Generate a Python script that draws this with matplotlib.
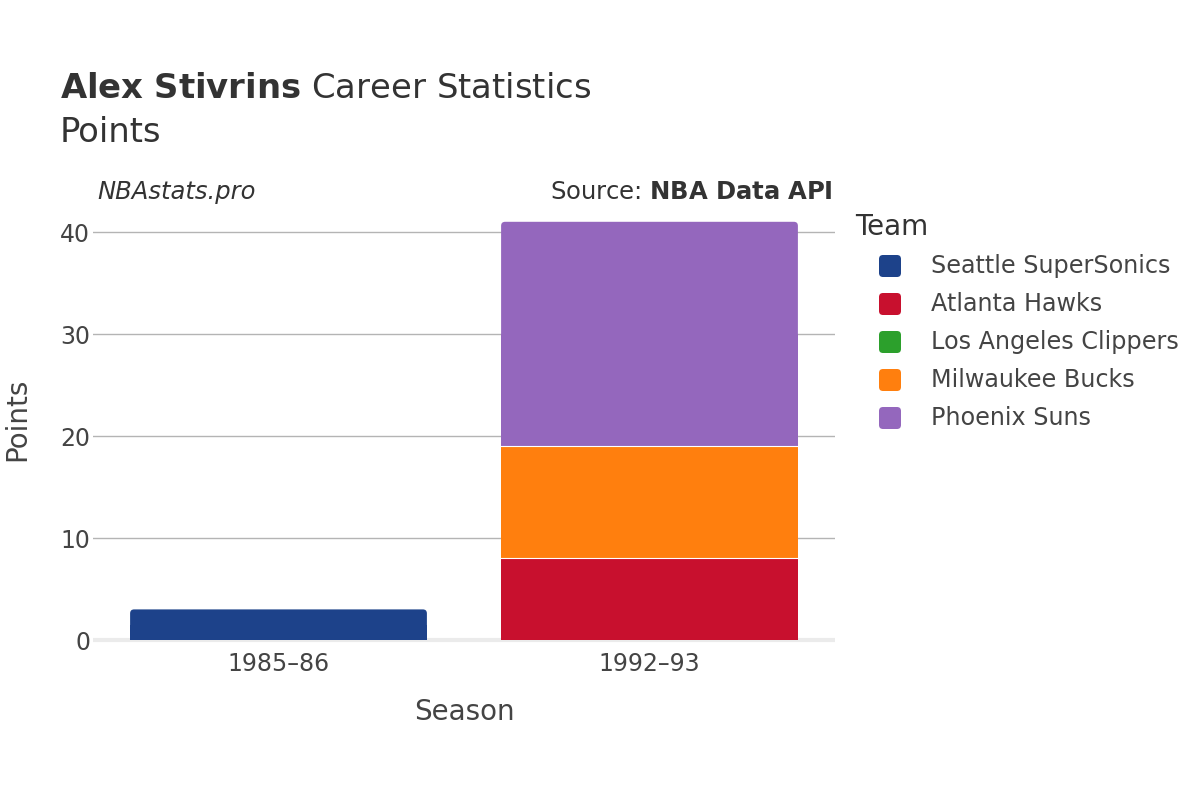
import numpy as np
import matplotlib
matplotlib.use("Agg")
import matplotlib.pyplot as plt
from matplotlib.patches import FancyBboxPatch, Rectangle

plt.rcParams["font.family"] = ["DejaVu Sans"]

# data
seasons = ["1985\u201386", "1992\u201393"]
teams = ["Seattle SuperSonics", "Atlanta Hawks", "Los Angeles Clippers",
         "Milwaukee Bucks", "Phoenix Suns"]
colors = ["#1d428a", "#c8102e", "#2ca02c", "#ff7f0e", "#9467bd"]
points = {
    "Seattle SuperSonics": [3, 0],
    "Atlanta Hawks": [0, 8],
    "Los Angeles Clippers": [0, 0],
    "Milwaukee Bucks": [0, 11],
    "Phoenix Suns": [0, 22],
}

fig = plt.figure(figsize=(12, 8), dpi=100)
ax = fig.add_axes([93 / 1200, (800 - 645.1) / 800, (835 - 93) / 1200, 433.5 / 800])
ax.set_xlim(-0.5, 1.5)
ax.set_ylim(-0.5, 42)

width = 0.8
x = np.arange(len(seasons))
bottom = np.zeros(len(seasons))
# px per data unit, for rounded corners
px_x = 372.0
px_y = 10.2
r = 4.0 / px_x
aspect = px_x / px_y

tops = np.zeros(len(seasons), dtype=int) - 1
for k, t in enumerate(teams):
    for i in range(len(seasons)):
        if points[t][i] > 0:
            tops[i] = k

for k, t in enumerate(teams):
    vals = np.array(points[t], dtype=float)
    for i in range(len(seasons)):
        v = vals[i]
        if v <= 0:
            continue
        x0 = x[i] - width / 2
        if tops[i] == k:
            # rounded top segment
            p = FancyBboxPatch((x0, bottom[i]), width, v,
                               boxstyle="round,pad=0,rounding_size=%f" % r,
                               mutation_aspect=aspect, facecolor=colors[k],
                               edgecolor="none", zorder=3)
            ax.add_patch(p)
            ax.add_patch(Rectangle((x0, bottom[i]), width, v / 2,
                                   facecolor=colors[k], edgecolor="none", zorder=3))
        else:
            ax.add_patch(Rectangle((x0, bottom[i]), width, v,
                                   facecolor=colors[k], edgecolor="none", zorder=3))
        if bottom[i] > 0:
            ax.plot([x0, x0 + width], [bottom[i], bottom[i]], color="white",
                    lw=0.8, zorder=4)
    bottom += vals

# grid and axes styling
ax.set_yticks([0, 10, 20, 30, 40])
for yv in [10, 20, 30, 40]:
    ax.axhline(yv, color="#b4b4b4", lw=1, zorder=1)
ax.axhline(0, color="#ebebeb", lw=3, zorder=2)
for s in ax.spines.values():
    s.set_visible(False)
ax.tick_params(axis="both", length=0, labelsize=17, colors="#444444", pad=5)
ax.tick_params(axis="y", pad=2)
ax.set_xticks(x)
ax.set_xticklabels(seasons)
ax.set_xlabel("Season", fontsize=20, color="#444444")
ax.xaxis.set_label_coords(0.5, -(698 - 645.1) / 433.5)
ax.set_ylabel("Points", fontsize=20, color="#444444")
ax.yaxis.set_label_coords(-(93 - 31) / 742, (645.1 - 419) / 433.5)

# titles
fig.text(60 / 1200, 1 - 88 / 800, r"$\bf{Alex\ Stivrins}$ Career Statistics",
         fontsize=24.4, color="#333333", va="center", ha="left")
fig.text(60 / 1200, 1 - 133 / 800, "Points", fontsize=24.4, color="#333333",
         va="center", ha="left")
fig.text(97 / 1200, 1 - 192 / 800, "NBAstats.pro", fontsize=17.5, style="italic",
         color="#333333", va="center", ha="left")
fig.text(833 / 1200, 1 - 192 / 800, r"Source: $\bf{NBA\ Data\ API}$", fontsize=17.5,
         color="#333333", va="center", ha="right")

# legend
fig.text(855 / 1200, 1 - 227 / 800, "Team", fontsize=20, color="#333333",
         va="center", ha="left")
for k, t in enumerate(teams):
    yc = 266 + 38 * k
    sq = FancyBboxPatch(((890 - 11) / 100, (800 - yc - 11) / 100), 0.22, 0.22,
                        boxstyle="round,pad=0,rounding_size=0.04",
                        transform=fig.dpi_scale_trans, facecolor=colors[k],
                        edgecolor="none")
    fig.patches.append(sq)
    fig.text(931 / 1200, 1 - yc / 800, t, fontsize=17.2, color="#444444",
             va="center", ha="left")

fig.savefig("out.png", dpi=100)
